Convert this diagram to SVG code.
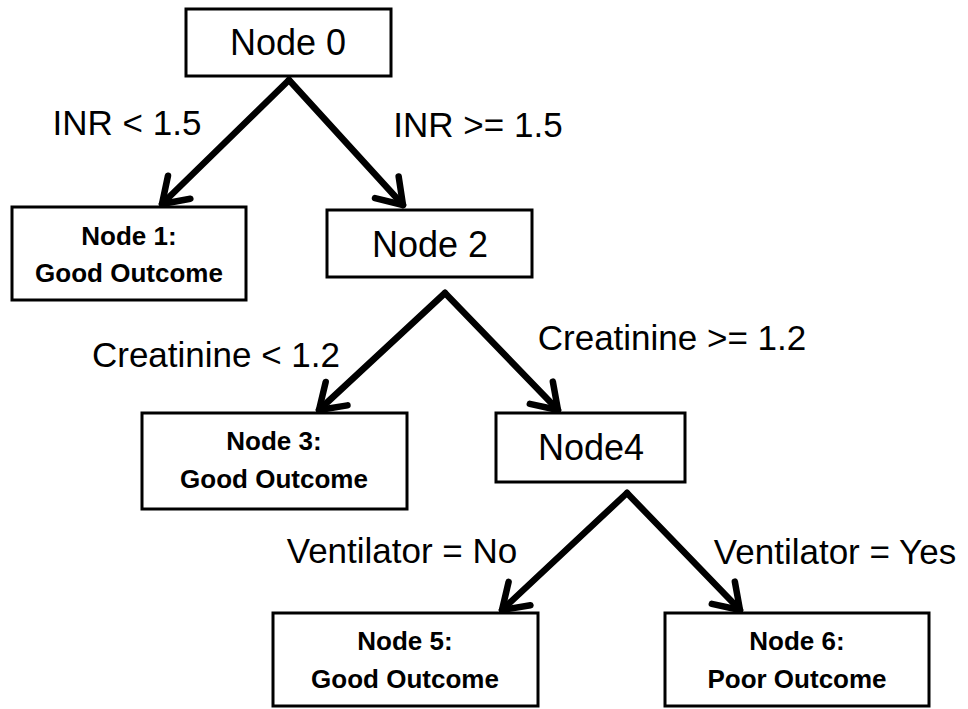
<svg xmlns="http://www.w3.org/2000/svg" width="968" height="709" viewBox="0 0 968 709">
  <style>
    .box { fill: #fff; stroke: #000; stroke-width: 3; }
    .big { font-family: "Liberation Sans", Arial, sans-serif; font-size: 36px; fill: #000; text-anchor: middle; }
    .lbl { font-family: "Liberation Sans", Arial, sans-serif; font-size: 35px; fill: #000; text-anchor: middle; }
    .small { font-family: "Liberation Sans", Arial, sans-serif; font-size: 26px; font-weight: bold; fill: #000; text-anchor: middle; }
    .edge { fill: none; stroke: #000; stroke-width: 6.5; stroke-linecap: round; marker-end: url(#arr); }
  </style>
  <defs>
    <marker id="arr" markerUnits="userSpaceOnUse" markerWidth="50" markerHeight="50" viewBox="-30 -25 50 50" refX="0" refY="0" orient="auto" overflow="visible">
      <path d="M-24,-16 L0,0 L-24,16" fill="none" stroke="#000" stroke-width="6.5" stroke-linecap="round" stroke-linejoin="round"/>
    </marker>
  </defs>
  <rect width="968" height="709" fill="#fff"/>

  <g id="connectors">
    <path class="edge" d="M289,80 L162,204"/>
    <path class="edge" d="M289,80 L403,205"/>
    <path class="edge" d="M445,293 L319,410"/>
    <path class="edge" d="M445,293 L558,410"/>
    <path class="edge" d="M627,493 L502,610"/>
    <path class="edge" d="M627,493 L740,610"/>
  </g>

  <g id="edge-labels">
    <text class="lbl" x="127" y="135">INR &lt; 1.5</text>
    <text class="lbl" x="478" y="137">INR &gt;= 1.5</text>
    <text class="lbl" x="216" y="367">Creatinine &lt; 1.2</text>
    <text class="lbl" x="672" y="350">Creatinine &gt;= 1.2</text>
    <text class="lbl" x="402" y="563">Ventilator = No</text>
    <text class="lbl" x="835" y="564">Ventilator = Yes</text>
  </g>

  <g id="node0">
    <rect class="box" x="186" y="9" width="205" height="67"/>
    <text class="big" x="288" y="55">Node 0</text>
  </g>
  <g id="node1">
    <rect class="box" x="12" y="207" width="234" height="93"/>
    <text class="small" x="129" y="245">Node 1:</text>
    <text class="small" x="129" y="282">Good Outcome</text>
  </g>
  <g id="node2">
    <rect class="box" x="327" y="210" width="205" height="67"/>
    <text class="big" x="430" y="257">Node 2</text>
  </g>
  <g id="node3">
    <rect class="box" x="142" y="413" width="265" height="96"/>
    <text class="small" x="274" y="450">Node 3:</text>
    <text class="small" x="274" y="488">Good Outcome</text>
  </g>
  <g id="node4">
    <rect class="box" x="496" y="413" width="189" height="69"/>
    <text class="big" x="591" y="460">Node4</text>
  </g>
  <g id="node5">
    <rect class="box" x="273" y="613" width="265" height="93"/>
    <text class="small" x="405" y="650">Node 5:</text>
    <text class="small" x="405" y="688">Good Outcome</text>
  </g>
  <g id="node6">
    <rect class="box" x="665" y="613" width="264" height="93"/>
    <text class="small" x="797" y="650">Node 6:</text>
    <text class="small" x="797" y="688">Poor Outcome</text>
  </g>
</svg>
